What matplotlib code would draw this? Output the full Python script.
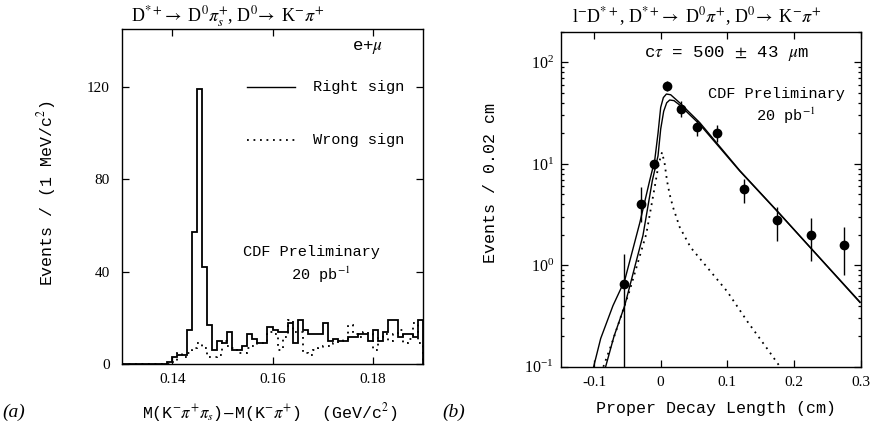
import numpy as np
import matplotlib
matplotlib.use("Agg")
import matplotlib.pyplot as plt
from matplotlib.ticker import LogLocator, NullFormatter

plt.rcParams['font.family'] = ['Liberation Serif', 'DejaVu Serif']
plt.rcParams['mathtext.fontset'] = 'stix'

# ---------------- Panel (a) data: histogram, 1 MeV bins from 0.13 to 0.19 ----------------
bin_lo = 0.13
bin_hi = 0.19
right_sign = [0, 0, 0, 0, 0, 0, 0, 0, 0, 1,
              3, 4, 4, 15, 57, 119, 42, 17, 6, 10,
              9, 14, 6, 6, 8, 13, 11, 9, 9, 16,
              15, 14, 14, 18, 9, 19, 15, 13, 13, 13,
              18, 10, 11, 10, 10, 12, 12, 13, 13, 10,
              15, 10, 14, 19, 19, 12, 13, 13, 12, 19]
wrong_sign = [0, 0, 0, 0, 0, 0, 0, 0, 0, 0,
              1, 5, 3, 5, 7, 9, 7, 3, 3, 4,
              10, 8, 7, 5, 5, 7, 8, 9, 9, 14,
              13, 6, 12, 19, 14, 14, 5, 4, 6, 7,
              8, 8, 9, 10, 11, 17, 13, 12, 14, 13,
              6, 12, 13, 10, 13, 15, 9, 11, 18, 9]
a_xticks = [0.14, 0.16, 0.18]
a_xticklabels = ['0.14', '0.16', '0.18']
a_yticks = [0, 40, 80, 120]

# ---------------- Panel (b) data ----------------
pts_x = [-0.055, -0.03, -0.01, 0.01, 0.03, 0.055, 0.085, 0.125, 0.175, 0.225, 0.275]
pts_y = [0.66, 4.0, 10.0, 58.0, 35.0, 23.0, 20.0, 5.7, 2.8, 2.0, 1.6]
pts_lo = [0.01, 2.7, 9.0, 52.0, 29.0, 19.0, 16.5, 4.1, 1.75, 1.1, 0.8]
pts_hi = [1.3, 5.9, 11.0, 65.0, 42.0, 27.0, 24.0, 7.1, 3.8, 2.9, 2.4]

fit_upper_x = [-0.1006, -0.09, -0.0716, -0.054, -0.0315, -0.0165, -0.009, -0.004, 0.0,
               0.004, 0.0086, 0.015, 0.0285, 0.0586, 0.1186, 0.1787, 0.2287, 0.299]
fit_upper_y = [0.1, 0.19, 0.40, 0.71, 2.6, 6.85, 10.8, 20.0, 36.0,
               45.0, 48.8, 48.0, 40.0, 25.5, 8.6, 3.22, 1.40, 0.435]

fit_lower_x = [-0.0826, -0.07, -0.054, -0.0266, -0.0125, -0.004, 0.0, 0.0045, 0.009,
               0.0135, 0.02, 0.0285, 0.0586, 0.1186, 0.1787, 0.2287, 0.299]
fit_lower_y = [0.1, 0.2, 0.4, 1.97, 6.85, 12.0, 22.0, 33.0, 40.0,
               42.6, 42.0, 38.0, 24.5, 8.5, 3.2, 1.39, 0.43]

bg_x = [-0.086, -0.0716, -0.0465, -0.0215, -0.009, -0.003, 0.002, 0.006, 0.0095,
        0.0135, 0.0185, 0.0285, 0.045, 0.07, 0.1, 0.13, 0.16, 0.179]
bg_y = [0.1, 0.183, 0.566, 2.05, 5.89, 10.0, 13.0, 10.0, 6.8,
        5.0, 3.74, 2.38, 1.5, 0.95, 0.55, 0.28, 0.15, 0.1]

b_xticks = [-0.1, 0.0, 0.1, 0.2, 0.3]
b_xticklabels = ['-0.1', '0', '0.1', '0.2', '0.3']

MONO = ['Liberation Mono', 'DejaVu Sans Mono']
DOT = (0, (1.0, 2.6))

fig = plt.figure(figsize=(8.72, 4.25), dpi=100)

# ---------------- Panel (a) ----------------
axa = fig.add_axes([0.140, 0.1428, 0.345, 0.789])
edges = np.linspace(bin_lo, bin_hi, len(right_sign) + 1)
axa.stairs(right_sign, edges, color='black', lw=1.3)
axa.stairs(wrong_sign, edges, color='black', lw=1.3, linestyle=DOT)
axa.set_xlim(bin_lo, bin_hi)
axa.set_ylim(0, 145)
axa.set_xticks(a_xticks)
axa.set_xticklabels(a_xticklabels)
axa.set_yticks(a_yticks)
axa.tick_params(direction='in', top=True, right=True, length=5, width=0.9,
                labelsize=11)
axa.tick_params(axis='y', pad=9)
axa.tick_params(axis='x', pad=6)
for s in axa.spines.values():
    s.set_linewidth(1.0)
axa.set_ylabel('Events / (1 MeV/c$^2$)', family=MONO, fontsize=12)
axa.yaxis.set_label_coords(-0.213, 0.509)
axa.set_xlabel(r'M(K$^{-}\pi^{+}\pi_{s}$)$-$M(K$^{-}\pi^{+}$)  (GeV/c$^{2}$)',
               family=MONO, fontsize=12)
axa.xaxis.set_label_coords(0.49, -0.11)

# legend drawn by hand
axa.plot([0.1550, 0.1645], [120, 120], color='black', lw=1.0)
axa.plot([0.1550, 0.1645], [97, 97], color='black', lw=1.3, linestyle=DOT)
axa.text(0.168, 120, 'Right sign', family=MONO, fontsize=11, va='center', ha='left')
axa.text(0.168, 97, 'Wrong sign', family=MONO, fontsize=11, va='center', ha='left')
axa.text(0.765, 0.944, r'e+$\mu$', transform=axa.transAxes, family=MONO, fontsize=12.5,
         va='center', ha='left')
axa.text(0.63, 0.335, 'CDF Preliminary', transform=axa.transAxes, family=MONO,
         fontsize=11, ha='center', va='center')
axa.text(0.66, 0.268, '20 pb$^{-1}$', transform=axa.transAxes, family=MONO,
         fontsize=11, ha='center', va='center')

# ---------------- Panel (b) ----------------
axb = fig.add_axes([0.643, 0.137, 0.344, 0.788])
axb.set_yscale('log')
axb.set_xlim(-0.15, 0.3)
axb.set_ylim(0.1, 200)
axb.plot(fit_upper_x, fit_upper_y, color='black', lw=1.0)
axb.plot(fit_lower_x, fit_lower_y, color='black', lw=1.0)
axb.plot(bg_x, bg_y, color='black', lw=1.3, linestyle=DOT)
py = np.array(pts_y)
yerr = np.vstack([py - np.array(pts_lo), np.array(pts_hi) - py])
axb.errorbar(pts_x, pts_y, yerr=yerr, fmt='o', color='black', ms=6,
             elinewidth=1.0, capsize=0)
axb.set_xticks(b_xticks)
axb.set_xticklabels(b_xticklabels)
axb.yaxis.set_major_locator(LogLocator(base=10, numticks=10))
axb.yaxis.set_minor_locator(LogLocator(base=10, subs=np.arange(2, 10), numticks=20))
axb.yaxis.set_minor_formatter(NullFormatter())
axb.tick_params(which='both', direction='in', top=True, right=True, width=0.9,
                labelsize=11)
axb.tick_params(which='major', length=5)
axb.tick_params(which='minor', length=2.5)
axb.tick_params(axis='y', pad=5, labelsize=11.5)
axb.tick_params(axis='x', pad=7)
for s in axb.spines.values():
    s.set_linewidth(1.0)
axb.set_ylabel('Events / 0.02 cm', family=MONO, fontsize=12)
axb.yaxis.set_label_coords(-0.21, 0.549)
axb.set_xlabel('Proper Decay Length (cm)', family=MONO, fontsize=12)
axb.xaxis.set_label_coords(0.517, -0.103)
axb.text(0.553, 0.934, r'c$\tau$ = 500 $\pm$ 43 $\mu$m', transform=axb.transAxes,
         family=MONO, fontsize=12.5, ha='center', va='center')
axb.text(0.72, 0.815, 'CDF Preliminary', transform=axb.transAxes, family=MONO,
         fontsize=11, ha='center', va='center')
axb.text(0.75, 0.75, '20 pb$^{-1}$', transform=axb.transAxes, family=MONO,
         fontsize=11, ha='center', va='center')

# ---------------- titles and panel letters ----------------
fig.text(227.5 / 872, 1 - 17 / 425,
         r'D$^{*+}\!\rightarrow$ D$^{0}\pi_{s}^{+}$, D$^{0}\!\rightarrow$ K$^{-}\pi^{+}$',
         ha='center', va='center', fontsize=13)
fig.text(696.5 / 872, 1 - 17 / 425,
         r'l$^{-}$D$^{*+}$, D$^{*+}\!\rightarrow$ D$^{0}\pi^{+}$, D$^{0}\!\rightarrow$ K$^{-}\pi^{+}$',
         ha='center', va='center', fontsize=13)
fig.text(2 / 872, 1 - 412 / 425, '(a)', style='italic', fontsize=14, ha='left', va='center')
fig.text(442 / 872, 1 - 412 / 425, '(b)', style='italic', fontsize=14, ha='left', va='center')

fig.savefig('out.png', dpi=100)
